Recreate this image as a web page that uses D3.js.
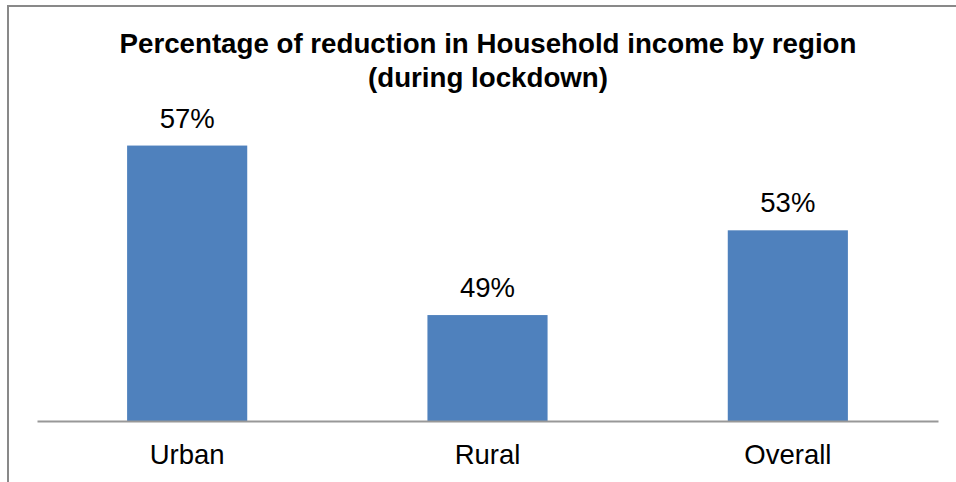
<!DOCTYPE html>
<html>
<head>
<meta charset="utf-8">
<script src="https://cdn.jsdelivr.net/npm/d3@7"></script>
<style>
  html, body { margin: 0; padding: 0; background: #fff; }
  svg { display: block; font-family: Arial, "Liberation Sans", sans-serif; }
</style>
</head>
<body>
<svg id="chart" width="956" height="482"></svg>
<script>
const categories = ["Urban", "Rural", "Overall"];
const values = [0.57, 0.49, 0.53];
const titleLines = ["Percentage of reduction in Household income by region", "(during lockdown)"];

const W = 956, H = 482;
const margin = { left: 37, right: 18, top: 82, bottom: 61 };
const svg = d3.select("#chart");

// frame
svg.append("path")
  .attr("d", `M8,${H} V6 H${W}`)
  .attr("fill", "none").attr("stroke", "#898989").attr("stroke-width", 2);

const x = d3.scaleBand().domain(categories)
  .range([margin.left, W - margin.right]).paddingInner(0.6).paddingOuter(0.3);
const y = d3.scaleLinear().domain([0.44, 0.60]).range([H - margin.bottom, margin.top]);

const pct = d3.format(".0%");
const fs = 27.5;

svg.selectAll("rect.bar").data(values).join("rect")
  .attr("class", "bar")
  .attr("x", (d, i) => x(categories[i]))
  .attr("width", x.bandwidth())
  .attr("y", d => y(d))
  .attr("height", d => y(0.44) - y(d))
  .attr("fill", "#4F81BD");

svg.selectAll("text.val").data(values).join("text")
  .attr("class", "val")
  .attr("x", (d, i) => x(categories[i]) + x.bandwidth() / 2)
  .attr("y", d => y(d) - 18)
  .attr("text-anchor", "middle")
  .attr("font-size", fs)
  .attr("fill", "#000")
  .text(d => pct(d));

const xAxis = d3.axisBottom(x).tickSize(0).tickPadding(23);
const gx = svg.append("g").attr("transform", `translate(0,${y(0.44)})`).call(xAxis);
gx.select(".domain").attr("stroke", "#989898").attr("stroke-width", 2);
gx.selectAll(".tick text")
  .attr("font-size", fs)
  .attr("font-family", "Arial, 'Liberation Sans', sans-serif")
  .attr("fill", "#000");

svg.append("text")
  .attr("x", 488).attr("y", 53)
  .attr("text-anchor", "middle")
  .attr("font-size", 27.7).attr("font-weight", "bold").attr("fill", "#000")
  .selectAll("tspan").data(titleLines).join("tspan")
  .attr("x", 488).attr("dy", (d, i) => i === 0 ? 0 : 34)
  .text(d => d);
</script>
</body>
</html>
